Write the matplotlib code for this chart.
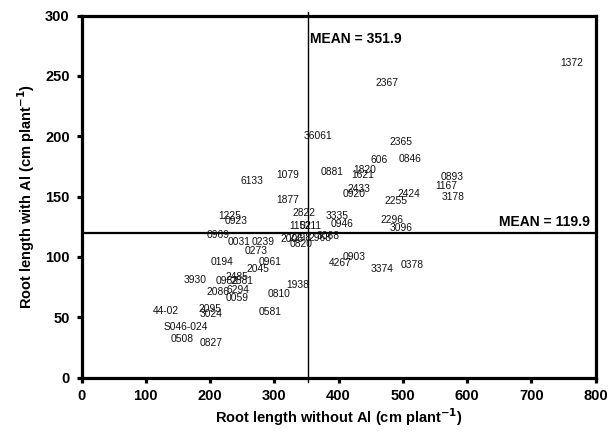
import matplotlib
matplotlib.use("Agg")
import matplotlib.pyplot as plt

plt.rcParams['font.family'] = ['Liberation Sans', 'DejaVu Sans']

genotypes = ["1372", "2367", "36061", "2365", "606", "0846", "1079", "6133", "0881",
             "1820", "1621", "0893", "1167", "3178", "1877", "2433", "0920", "2424",
             "2255", "2822", "3335", "0946", "1225", "0923", "1152", "0211", "2296",
             "3096", "0969", "0031", "0239", "0273", "2006", "2298", "2968", "3068",
             "0820", "0194", "0961", "2045", "0903", "4267", "3374", "0378", "3930",
             "2485", "0982", "2881", "2086", "6294", "0059", "0810", "1938", "44-02",
             "2095", "3024", "0581", "S046-024", "0508", "0827"]
root_without_al = [763, 475, 368, 497, 463, 511, 320, 265, 390,
                   441, 438, 576, 568, 578, 321, 432, 424, 510,
                   489, 346, 397, 406, 230, 241, 341, 357, 483,
                   498, 213, 245, 282, 272, 328, 340, 371, 383,
                   341, 219, 293, 275, 424, 402, 468, 515, 176,
                   241, 227, 249, 213, 244, 242, 307, 336, 131,
                   200, 202, 294, 162, 156, 202]
root_with_al = [261, 244, 200, 195, 180, 181, 168, 163, 170,
                172, 168, 166, 159, 150, 147, 156, 152, 152,
                146, 136, 134, 127, 134, 130, 126, 126, 131,
                124, 118, 112, 112, 105, 115, 116, 116, 117,
                111, 96, 96, 90, 100, 95, 90, 93, 81,
                83, 80, 80, 71, 73, 66, 69, 77, 55,
                57, 53, 54, 42, 32, 29]
mean_without = 351.9
mean_with = 119.9

fig = plt.figure(figsize=(6.09, 4.34), dpi=100)
ax = fig.add_axes([0.134, 0.130, 0.844, 0.834])

for lab, xv, yv in zip(genotypes, root_without_al, root_with_al):
    ax.text(xv, yv, lab, ha='center', va='center', fontsize=7.4, color='#111111')

ax.plot([mean_without, mean_without], [-4, 303], color='black', lw=1.0, clip_on=False)
ax.axhline(mean_with, color='black', lw=1.6)
ax.text(mean_without + 4, 277.5, "MEAN = 351.9", fontsize=10, fontweight='bold',
        ha='left', va='baseline')
ax.text(791, 125.3, "MEAN = 119.9", fontsize=10, fontweight='bold',
        ha='right', va='baseline')

ax.set_xlim(0, 800)
ax.set_ylim(0, 300)
ax.set_xticks(range(0, 801, 100))
ax.set_yticks(range(0, 301, 50))
for s in ax.spines.values():
    s.set_linewidth(2.3)
ax.tick_params(axis='both', direction='out', length=3.5, width=2.3, labelsize=10.5, pad=5)
for t in ax.get_xticklabels() + ax.get_yticklabels():
    t.set_fontweight('bold')

ax.set_xlabel("Root length without Al (cm plant$^{\\mathbf{-1}}$)", fontsize=10.5,
              fontweight='bold', labelpad=2)
ax.set_ylabel("Root length with Al (cm plant$^{\\mathbf{-1}}$)", fontsize=10.5,
              fontweight='bold', labelpad=6)

fig.savefig("out.png", dpi=100)
